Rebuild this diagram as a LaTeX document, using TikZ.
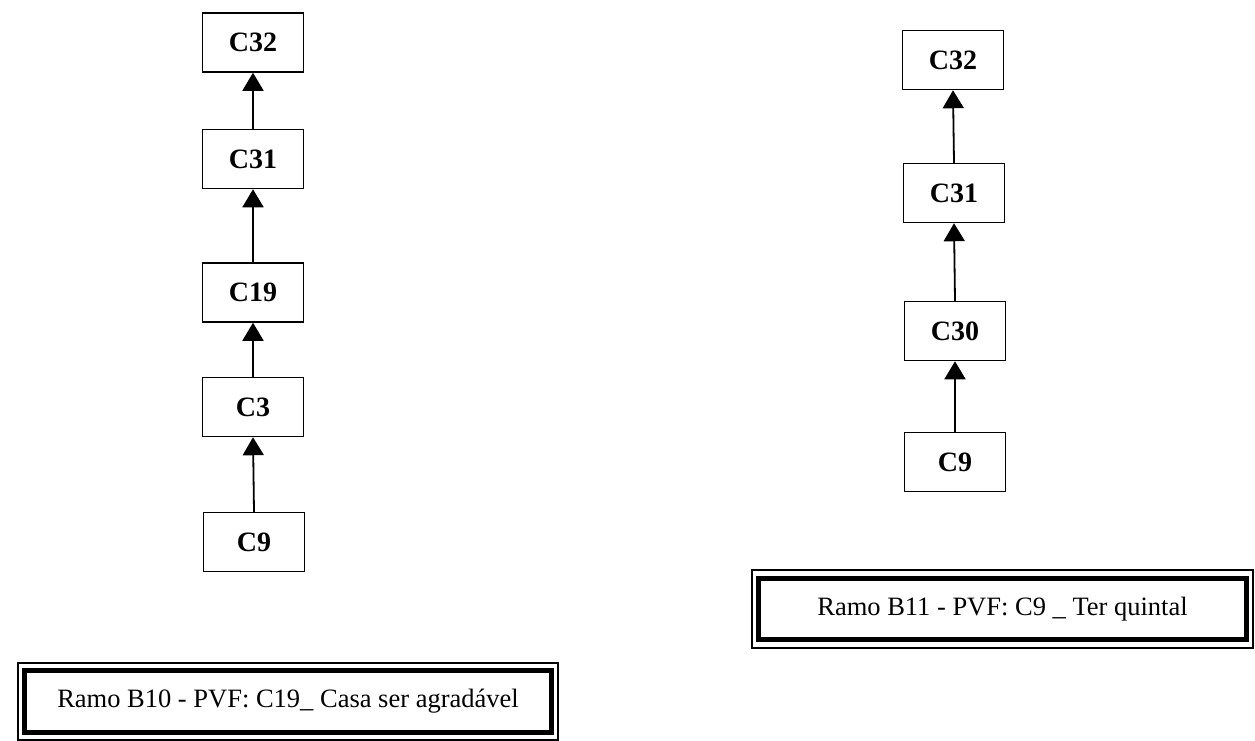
\documentclass[tikz,border=0pt]{standalone}
\usepackage{fontspec}
\setmainfont{Liberation Serif}
\usetikzlibrary{arrows.meta}
\tikzset{
  cbox/.style={draw, line width=1.5pt, minimum width=101pt, minimum height=59pt, inner sep=0pt, font=\fontsize{28}{32}\selectfont\bfseries},
  arr/.style={line width=1.8pt, -{Triangle[length=18pt,width=21pt]}},
  lbl/.style={draw, line width=1.2pt, minimum height=78pt, inner sep=0pt, font=\fontsize{26.5}{30}\selectfont},
  thickframe/.style={line width=5pt}
}
\begin{document}
\begin{tikzpicture}[x=1pt,y=-1pt]
\useasboundingbox (0,0) rectangle (1255,740);
% left column
\node[cbox] (L32) at (253,42.5) {C32};
\node[cbox] (L31) at (253,159) {C31};
\node[cbox] (L19) at (253,292.5) {C19};
\node[cbox] (L3)  at (253,407) {C3};
\node[cbox] (L9)  at (254,542) {C9};
\draw[arr] (L31.north) -- (L32.south);
\draw[arr] (L19.north) -- (L31.south);
\draw[arr] (L3.north) -- (L19.south);
\draw[arr] (L9.north) -- (L3.south);
% right column
\node[cbox] (R32) at (953,60) {C32};
\node[cbox] (R31) at (954,193) {C31};
\node[cbox] (R30) at (955,331) {C30};
\node[cbox] (R9)  at (955,462) {C9};
\draw[arr] (R31.north) -- (R32.south);
\draw[arr] (R30.north) -- (R31.south);
\draw[arr] (R9.north) -- (R30.south);
% label boxes
\node[lbl, minimum width=540pt, minimum height=77pt] (LB) at (288,701.5) {Ramo B10 - PVF: C19\_ Casa ser agradável};
\draw[thickframe] ([shift={(7.5,8.5)}]LB.north west) rectangle ([shift={(-7.5,-8.5)}]LB.south east);
\node[lbl, minimum width=501pt] (RB) at (1002.5,609) {Ramo B11 - PVF: C9 \_ Ter quintal};
\draw[thickframe] ([shift={(7.5,9)}]RB.north west) rectangle ([shift={(-7.5,-9)}]RB.south east);
\end{tikzpicture}
\end{document}
